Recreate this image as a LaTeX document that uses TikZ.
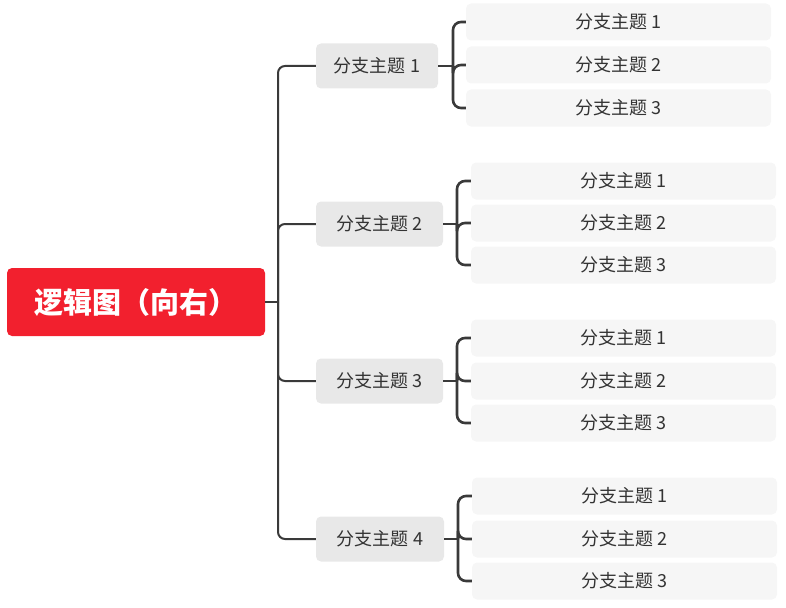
\documentclass[tikz,border=0pt]{standalone}
\usepackage{fontspec}
\setmainfont{Noto Sans CJK SC}
\definecolor{rootred}{HTML}{F2202E}
\definecolor{branchgray}{HTML}{E8E8E8}
\definecolor{leafgray}{HTML}{F6F6F6}
\definecolor{txt}{HTML}{333333}
\definecolor{linec}{HTML}{3A3A3A}
\begin{document}
\begin{tikzpicture}[x=1pt,y=-1pt,
  rootbox/.style={fill=rootred,rounded corners=5pt,minimum width=258pt,minimum height=68pt,inner sep=0pt,text=white,font=\fontsize{29}{33}\selectfont\bfseries},
  branchbox/.style={fill=branchgray,rounded corners=5pt,minimum height=45pt,inner sep=0pt,text=txt,font=\fontsize{18}{21}\selectfont},
  leafbox/.style={fill=leafgray,rounded corners=5pt,minimum width=305pt,minimum height=37pt,inner sep=0pt,text=txt,font=\fontsize{18}{21}\selectfont},
  trunk/.style={draw=linec,line width=2pt,rounded corners=7pt},
  brace/.style={draw=linec,line width=2.6pt,rounded corners=8pt}]
\useasboundingbox (0,0) rectangle (786,607);
\node[rootbox] (root) at (136,302) {逻辑图（向右）};
\node[branchbox,minimum width=122pt] (b1) at (377,66) {分支主题 1};
\node[branchbox,minimum width=127pt] (b2) at (379.5,224) {分支主题 2};
\node[branchbox,minimum width=127pt] (b3) at (379.5,381) {分支主题 3};
\node[branchbox,minimum width=128pt] (b4) at (380,539) {分支主题 4};
% leaves
\node[leafbox] (l11) at (618.5,22) {分支主题 1};
\node[leafbox] (l12) at (618.5,65) {分支主题 2};
\node[leafbox] (l13) at (618.5,108) {分支主题 3};
\node[leafbox] (l21) at (623.5,181) {分支主题 1};
\node[leafbox] (l22) at (623.5,223) {分支主题 2};
\node[leafbox] (l23) at (623.5,265) {分支主题 3};
\node[leafbox] (l31) at (623.5,338) {分支主题 1};
\node[leafbox] (l32) at (623.5,381) {分支主题 2};
\node[leafbox] (l33) at (623.5,423) {分支主题 3};
\node[leafbox] (l41) at (624.5,496) {分支主题 1};
\node[leafbox] (l42) at (624.5,539) {分支主题 2};
\node[leafbox] (l43) at (624.5,581) {分支主题 3};
% trunk
\coordinate (tr) at (278,302);
\draw[trunk] (root.east) -- (tr);
\foreach \n in {1,2,3,4}{
  \draw[trunk] (tr) |- (b\n.west);
}
% braces
\coordinate (j1) at (453,0);
\coordinate (j2) at (457,0);
\coordinate (j3) at (457,0);
\coordinate (j4) at (458,0);
\foreach \n in {1,2,3,4}{
  \draw[linec,line width=2.6pt] (b\n.east) -- (j\n |- b\n.east);
  \foreach \i in {1,2,3}{
    \draw[brace] (j\n |- b\n.east) |- (l\n\i.west);
  }
}
\end{tikzpicture}
\end{document}
